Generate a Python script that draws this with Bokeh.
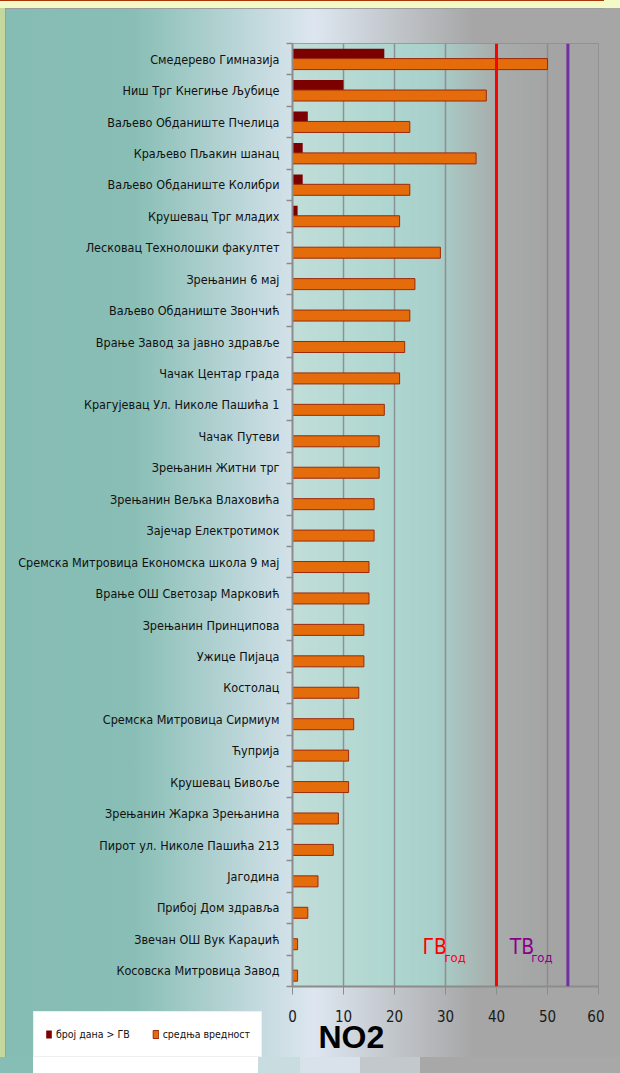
import numpy as np
from bokeh.plotting import figure
from bokeh.layouts import column
from bokeh.models import (Range1d, FixedTicker, Span, Label, Legend, LegendItem)
from bokeh.embed import file_html
from bokeh.resources import INLINE

# ---------------- data ----------------
stations = [
    "Смедерево Гимназија",
    "Ниш Трг Кнегиње Љубице",
    "Ваљево Обданиште Пчелица",
    "Краљево Пљакин шанац",
    "Ваљево Обданиште Колибри",
    "Крушевац Трг младих",
    "Лесковац Технолошки факултет",
    "Зрењанин 6 мај",
    "Ваљево Обданиште Звончић",
    "Врање Завод за јавно здравље",
    "Чачак Центар града",
    "Крагујевац Ул. Николе Пашића 1",
    "Чачак Путеви",
    "Зрењанин Житни трг",
    "Зрењанин Вељка Влаховића",
    "Зајечар Електротимок",
    "Сремска Митровица Економска школа 9 мај",
    "Врање ОШ Светозар Марковић",
    "Зрењанин Принципова",
    "Ужице Пијаца",
    "Костолац",
    "Сремска Митровица Сирмиум",
    "Ћуприја",
    "Крушевац Бивоље",
    "Зрењанин Жарка Зрењанина",
    "Пирот ул. Николе Пашића 213",
    "Јагодина",
    "Прибој Дом здравља",
    "Звечан ОШ Вук Караџић",
    "Косовска Митровица Завод",
]
days_over_gv = [18, 10, 3, 2, 2, 1, 0, 0, 0, 0, 0, 0, 0, 0, 0,
                0, 0, 0, 0, 0, 0, 0, 0, 0, 0, 0, 0, 0, 0, 0]
mean_value = [50, 38, 23, 36, 23, 21, 29, 24, 23, 22, 21, 18, 17, 17, 16,
              16, 15, 15, 14, 14, 13, 12, 11, 11, 9, 8, 5, 3, 1, 1]
series_names = ["број дана > ГВ", "средња вредност"]
x_ticks = [0, 10, 20, 30, 40, 50, 60]
gv_limit = 40
tv_limit = 54
pollutant = "NO2"

# ---------------- styling ----------------
NARROW = "'DejaVu Sans Condensed', 'Liberation Sans Narrow', sans-serif"
DARK_FILL = "#7b0000"
MEAN_FILL = "#e46c0a"
MEAN_LINE = "#9a2a0c"
W, H = 604, 1057
n = len(stations)
idx = np.arange(n)


def outer_band(x0, x1, color):
    """CSS box-shadow painting a band just below the figure (outside its box)."""
    s = (W - (x1 - x0)) / 2
    return f"{x0 - s}px {H - s}px 0 {-s}px {color}"


shadows = [
    f"16px {8 - H}px 0 0 #f4fac6",
    outer_band(33, 258, "#ffffff"),
    outer_band(0, 33, "#86bdb4"),
    outer_band(258, 300, "#c8dde0"),
    outer_band(300, 360, "#d9e2ea"),
    outer_band(360, 420, "#c3c8cc"),
    outer_band(420, 620, "#a8a8a8"),
    "16px 0 0 0 #a6a6a6",
    "inset 0 8px 0 #f4fac6", "inset 5px 0 0 #c4d79c",
    "inset 0 9px 0 #9c9c9c", "inset 6px 0 0 #9c9c9c",
]

p = figure(width=W, height=H, output_backend="svg", toolbar_location=None,
           x_range=Range1d(x_ticks[0], x_ticks[-1]), y_range=Range1d(n - 0.5, -0.5),
           min_border_left=292, min_border_right=6, min_border_top=43, min_border_bottom=71)

p.border_fill_color = None
p.background_fill_color = None
p.styles = {
    "background": "linear-gradient(to right, #85bcb3 0%, #88beb5 22%, #dde6f0 52%, #a6a6a6 78.5%, #a6a6a6 100%)",
    "box-shadow": ", ".join(shadows),
}

# plot-area gradient (background image)
g_x = [0, 20, 28, 40, 50, 60]
g_c = ["#c2ded9", "#aed6d0", "#a9d0cb", "#a8adab", "#a5a5a5", "#a4a4a4"]
cols = 300
xs = np.linspace(0, 60, cols)
rgb = np.array([[int(c[i:i + 2], 16) for i in (1, 3, 5)] for c in g_c], dtype=float)
img = np.zeros((2, cols), dtype=np.uint32)
view = img.view(dtype=np.uint8).reshape((2, cols, 4))
for ch in range(3):
    view[:, :, ch] = np.interp(xs, g_x, rgb[:, ch]).astype(np.uint8)[None, :]
view[:, :, 3] = 255
p.image_rgba(image=[img], x=0, y=-0.5, dw=60, dh=n, level="image")

# bars
p.hbar(y=idx - 0.165, left=0, right=days_over_gv, height=0.34,
       fill_color=DARK_FILL, line_color=None)
p.hbar(y=idx + 0.155, left=0, right=mean_value, height=0.35,
       fill_color=MEAN_FILL, line_color=MEAN_LINE, line_width=1)

# limit lines
p.add_layout(Span(location=gv_limit, dimension="height", line_color="#ff0000", line_width=3))
p.add_layout(Span(location=tv_limit, dimension="height", line_color="#7030a0", line_width=3))

# limit labels
p.add_layout(Label(x=25.5, y=40, x_units="data", y_units="screen", text="ГВ",
                   text_font=NARROW, text_font_size="21px", text_color="#ff0000",
                   text_baseline="alphabetic"))
p.add_layout(Label(x=29.8, y=29, x_units="data", y_units="screen", text="год",
                   text_font=NARROW, text_font_size="13px", text_color="#ff0000",
                   text_baseline="alphabetic"))
p.add_layout(Label(x=42.6, y=40, x_units="data", y_units="screen", text="ТВ",
                   text_font=NARROW, text_font_size="21px", text_color="#8b008b",
                   text_baseline="alphabetic"))
p.add_layout(Label(x=46.8, y=29, x_units="data", y_units="screen", text="год",
                   text_font=NARROW, text_font_size="13px", text_color="#8b008b",
                   text_baseline="alphabetic"))

# axes
p.xaxis.ticker = FixedTicker(ticks=x_ticks)
p.xaxis.axis_line_color = "#8c8c8c"
p.xaxis.axis_line_width = 2
p.xaxis.major_tick_line_color = "#8c8c8c"
p.xaxis.major_tick_out = 8
p.xaxis.major_tick_in = 0
p.xaxis.minor_tick_line_color = None
p.xaxis.major_label_standoff = 15
p.xaxis.major_label_text_font = NARROW
p.xaxis.major_label_text_font_size = "15px"
p.xaxis.major_label_text_color = "#1a1a1a"

p.yaxis.ticker = FixedTicker(ticks=list(idx), minor_ticks=list(np.arange(n + 1) - 0.5))
p.yaxis.major_label_overrides = {int(i): s for i, s in zip(idx, stations)}
p.yaxis.axis_line_color = "#8c8c8c"
p.yaxis.axis_line_width = 2
p.yaxis.major_tick_line_color = None
p.yaxis.major_tick_out = 0
p.yaxis.major_tick_in = 0
p.yaxis.minor_tick_line_color = "#8c8c8c"
p.yaxis.minor_tick_line_width = 1.5
p.yaxis.minor_tick_out = 6
p.yaxis.minor_tick_in = 0
p.yaxis.major_label_standoff = 7
p.yaxis.major_label_text_font = NARROW
p.yaxis.major_label_text_font_size = "12.5px"
p.yaxis.major_label_text_color = "#111111"

p.xgrid.grid_line_color = "#8a8a8a"
p.xgrid.grid_line_width = 1.5
p.xgrid.grid_line_alpha = 0.9
p.ygrid.grid_line_color = None
p.outline_line_color = "#8c8c8c"
p.outline_line_width = 1

# ---------------- full-size transparent overlay (legend + pollutant name) ----------------
q = figure(width=W, height=H, output_backend="svg", toolbar_location=None,
           x_axis_type=None, y_axis_type=None, min_border=0,
           x_range=Range1d(0, 1), y_range=Range1d(-10, -9))
q.grid.visible = False
q.outline_line_color = None
q.background_fill_color = None
q.border_fill_color = None
q.styles = {"position": "absolute", "left": "0px", "top": "0px"}
for fig in (p, q):
    if "frame_align" in fig.properties():
        fig.frame_align = False

# same series drawn in the overlay only to feed its legend (outside its view)
k_dark = q.hbar(y=idx, left=0, right=days_over_gv, height=0.34,
                fill_color=DARK_FILL, line_color=None)
k_mean = q.hbar(y=idx, left=0, right=mean_value, height=0.35,
                fill_color=MEAN_FILL, line_color=MEAN_LINE, line_width=1)

legend = Legend(items=[LegendItem(label=series_names[0], renderers=[k_dark]),
                       LegendItem(label=series_names[1], renderers=[k_mean])],
                location=(33, 0), orientation="horizontal",
                background_fill_color="#ffffff", background_fill_alpha=1,
                border_line_color="#e0e0e0", padding=11, spacing=22,
                glyph_width=7, glyph_height=10, label_standoff=4, label_height=22,
                label_text_font=NARROW, label_text_font_size="10.5px",
                label_text_color="#111111", margin=0)
q.add_layout(legend, "center")

q.add_layout(Label(x=318, y=21, x_units="screen", y_units="screen", text=pollutant,
                   text_font="'Liberation Sans', Arial, sans-serif", text_font_style="bold",
                   text_font_size="32px", text_color="#000000", text_baseline="alphabetic"))

layout = column(p, q, spacing=0)
open("out.html", "w").write(file_html(layout, INLINE))
